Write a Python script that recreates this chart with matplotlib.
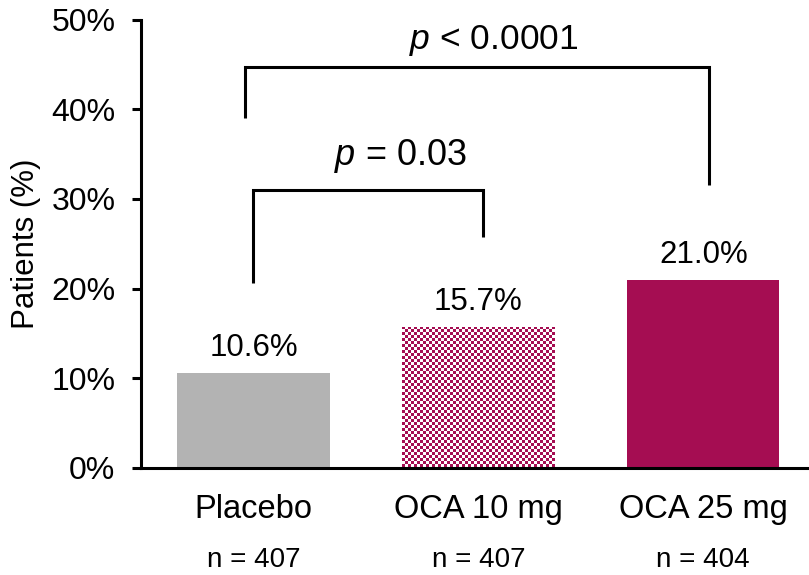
import matplotlib
matplotlib.use("Agg")
import matplotlib.pyplot as plt
import numpy as np

plt.rcParams['font.family'] = ['Liberation Sans', 'DejaVu Sans']
plt.rcParams['mathtext.fontset'] = 'custom'
plt.rcParams['mathtext.rm'] = 'Liberation Sans'
plt.rcParams['mathtext.it'] = 'Liberation Sans:italic'

categories = ["Placebo", "OCA 10 mg", "OCA 25 mg"]
n_labels = ["n = 407", "n = 407", "n = 404"]
values = [10.6, 15.7, 21.0]
value_labels = ["10.6%", "15.7%", "21.0%"]
yticks = [0, 10, 20, 30, 40, 50]
ytick_labels = ["0%", "10%", "20%", "30%", "40%", "50%"]

# significance brackets: (x_left, x_right, y_left_bottom, y_top, y_right_bottom)
bracket_small = (0.0, 1.02, 20.6, 31.0, 25.8)
bracket_large = (-0.036, 2.027, 39.1, 44.8, 31.6)
p_small = r"$p$ = 0.03"
p_large = r"$p$ < 0.0001"

grey = "#B3B3B3"
magenta = "#A50D52"

fig = plt.figure(figsize=(8.09, 5.75), dpi=100)
ax = fig.add_axes([141/809, 1 - 467.5/575, (809 - 141)/809, (467.5 - 20)/575])

x = list(range(len(categories)))
bars = ax.bar(x, values, width=0.677, color=[grey, magenta, magenta], linewidth=0, zorder=2)

ax.set_xlim(-0.5, 2.47)
ax.set_ylim(0, 50)

# checkered texture on the 10 mg bar (pixel-level pattern like the reference)
fig.canvas.draw()
b = bars[1]
bb = b.get_window_extent()
cell = 3.0
ncols = max(1, int(round(bb.width / cell)))
nrows = max(1, int(round(bb.height / cell)))
ii, jj = np.indices((nrows, ncols))
checker = np.where((ii + jj) % 2 == 0, 1.0, 0.0)
rgb = np.array(matplotlib.colors.to_rgb(magenta))
img = np.ones((nrows, ncols, 3))
img[checker == 1] = rgb
b.set_facecolor("white")
im = ax.imshow(img, extent=[b.get_x(), b.get_x() + b.get_width(), 0, b.get_height()],
               interpolation='nearest', aspect='auto', zorder=2.5)
im.set_clip_path(b)
ax.set_xlim(-0.5, 2.47)
ax.set_ylim(0, 50)

ax.set_yticks(yticks)
ax.set_yticklabels(ytick_labels, fontsize=23)
ax.set_xticks(x)
ax.set_xticklabels(categories, fontsize=23.5)
ax.tick_params(axis='y', direction='out', length=6.5, width=2.2, pad=12, colors='black')
ax.tick_params(axis='x', length=0, pad=19)
for s in ['top', 'right']:
    ax.spines[s].set_visible(False)
for s in ['left', 'bottom']:
    ax.spines[s].set_linewidth(2.2)
    ax.spines[s].set_color('black')
    ax.spines[s].set_zorder(4)
ax.set_ylabel("Patients (%)", fontsize=22.5)
ax.yaxis.set_label_coords(-0.149, 0.5)

for xi, v, lab in zip(x, values, value_labels):
    ax.annotate(lab, (xi, v), xytext=(0, 12), textcoords='offset points',
                ha='center', va='baseline', fontsize=22.5)

trans = ax.get_xaxis_transform()
for xi, lab in zip(x, n_labels):
    ax.text(xi, -0.222, lab, transform=trans, ha='center', va='baseline', fontsize=20)

def bracket(bk):
    xl, xr, yl, yt, yr = bk
    ax.plot([xl, xl, xr, xr], [yl, yt, yt, yr], color='black', lw=2.2,
            solid_joinstyle='miter', solid_capstyle='butt', zorder=3)

bracket(bracket_small)
bracket(bracket_large)
ax.text(0.655, 33.8, p_small, ha='center', va='baseline', fontsize=26)
ax.text(1.07, 46.8, p_large, ha='center', va='baseline', fontsize=25.5)

fig.savefig("out.png", dpi=100)
